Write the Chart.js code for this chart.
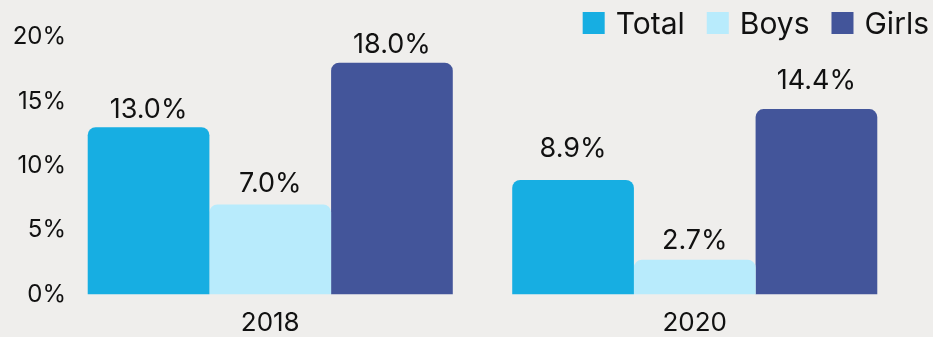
<!DOCTYPE html>
<html>
<head>
<meta charset="utf-8">
<script src="https://cdn.jsdelivr.net/npm/chart.js@4/dist/chart.umd.min.js"></script>
<style>
  html, body { margin: 0; padding: 0; background: #efeeec; }
  #wrap { width: 933px; height: 337px; position: relative; }
</style>
</head>
<body>
<div id="wrap"><canvas id="c"></canvas></div>
<script>
// Categories and series
const years = ['2018', '2020'];
const seriesNames = ['Total', 'Boys', 'Girls'];
const total = [13.0, 8.9];
const boys = [7.0, 2.7];
const girls = [18.0, 14.4];
const yTicks = [0, 5, 10, 15, 20];

// Styling
const seriesColors = ['#17aee2', '#b8ebfc', '#43559a'];
const labelGaps = [[9, 23], [12.6, 10.7], [10, 20]]; // space between bar top and its label, per series/year
const FONT = 'Inter, "Noto Sans", sans-serif';
const INK = '#111111';
const Y_FONT = '24px ' + FONT;
const Y_LABEL_RIGHT = 66; // right edge of the y tick labels
const Y_AXIS_WIDTH = 58;

const yFmt = v => v + '%';

// The y labels hang slightly into the plot, so they are drawn mirrored and pushed left by their width.
const measure = document.createElement('canvas').getContext('2d');
measure.font = Y_FONT;
const widestY = Math.max(...yTicks.map(v => measure.measureText(yFmt(v)).width));
const yPadding = Y_LABEL_RIGHT - Y_AXIS_WIDTH - widestY;

const bgPlugin = {
  id: 'bg',
  beforeDraw(chart) {
    const ctx = chart.ctx;
    ctx.save();
    ctx.fillStyle = '#efeeec';
    ctx.fillRect(0, 0, chart.width, chart.height);
    ctx.restore();
  }
};

const valueLabels = {
  id: 'valueLabels',
  afterDatasetsDraw(chart) {
    const ctx = chart.ctx;
    ctx.save();
    ctx.font = '27px ' + FONT;
    ctx.fillStyle = INK;
    ctx.textAlign = 'center';
    ctx.textBaseline = 'alphabetic';
    chart.data.datasets.forEach((ds, di) => {
      const meta = chart.getDatasetMeta(di);
      meta.data.forEach((bar, i) => {
        const v = ds.data[i];
        ctx.fillText(v.toFixed(1) + '%', bar.x, bar.y - labelGaps[di][i]);
      });
    });
    ctx.restore();
  }
};

const topLegend = {
  id: 'topLegend',
  afterDraw(chart) {
    const ctx = chart.ctx;
    ctx.save();
    ctx.font = '30px ' + FONT;
    ctx.textBaseline = 'alphabetic';
    const box = 22, boxGap = 11, itemGap = 22, right = 929, top = 12;
    const items = chart.data.datasets.map(ds => ({ text: ds.label, color: ds.backgroundColor, w: ctx.measureText(ds.label).width }));
    let width = 0;
    items.forEach((it, k) => { width += box + boxGap + it.w + (k < items.length - 1 ? itemGap : 0); });
    let x = right - width;
    items.forEach(it => {
      ctx.fillStyle = it.color;
      ctx.fillRect(x, top, box, box);
      x += box + boxGap;
      ctx.fillStyle = INK;
      ctx.fillText(it.text, x, top + box);
      x += it.w + itemGap;
    });
    ctx.restore();
  }
};

const seriesValues = [total, boys, girls];

new Chart(document.getElementById('c'), {
  type: 'bar',
  data: {
    labels: years,
    datasets: seriesNames.map((name, k) => ({
      label: name,
      data: seriesValues[k],
      backgroundColor: seriesColors[k],
      borderWidth: 0,
      borderRadius: 8,
      borderSkipped: 'bottom',
      barPercentage: 1.0,
      categoryPercentage: 0.86
    }))
  },
  options: {
    responsive: true,
    maintainAspectRatio: false,
    devicePixelRatio: 1,
    animation: false,
    layout: { padding: { top: 37, right: 26, bottom: 0, left: 0 } },
    plugins: {
      legend: { display: false },
      tooltip: { enabled: false }
    },
    scales: {
      x: {
        grid: { display: false, drawTicks: false },
        border: { display: false },
        ticks: { color: INK, font: { family: FONT, size: 26 }, padding: 13 },
        afterFit(scale) { scale.height = 42.5; }
      },
      y: {
        min: 0,
        max: 20,
        grid: { display: false, drawTicks: false },
        border: { display: false },
        afterBuildTicks(scale) { scale.ticks = yTicks.map(v => ({ value: v })); },
        ticks: {
          color: INK,
          font: { family: FONT, size: 24 },
          mirror: true,
          crossAlign: 'far',
          padding: yPadding,
          callback: yFmt
        },
        afterFit(scale) { scale.width = Y_AXIS_WIDTH; }
      }
    }
  },
  plugins: [bgPlugin, valueLabels, topLegend]
});
</script>
</body>
</html>
